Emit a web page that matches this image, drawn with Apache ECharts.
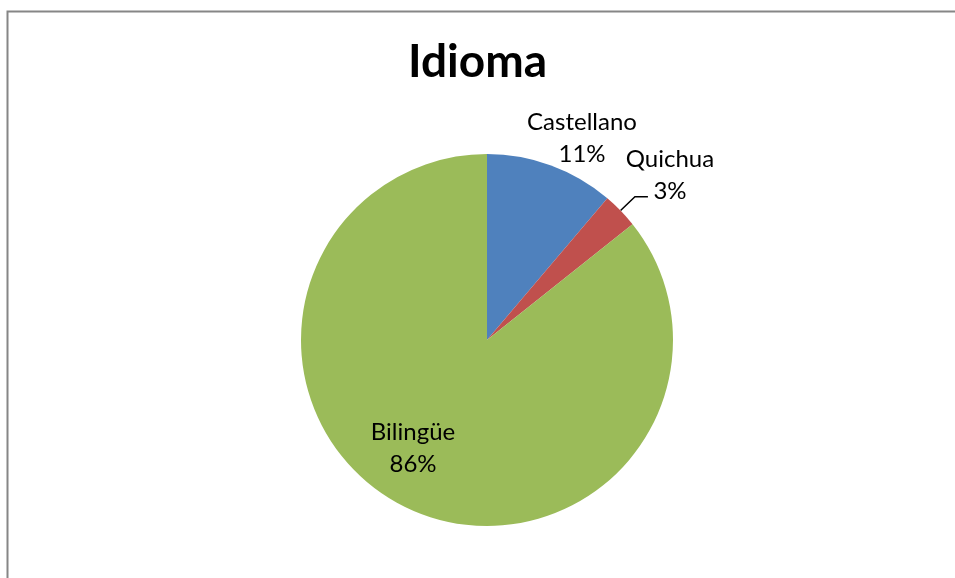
<!DOCTYPE html>
<html>
<head>
<meta charset="utf-8">
<script src="https://cdn.jsdelivr.net/npm/echarts@6/dist/echarts.min.js"></script>
<style>
html,body{margin:0;padding:0;background:#fff;}
#c{width:955px;height:578px;}
</style>
</head>
<body>
<div id="c"></div>
<script>
var categories = ['Castellano', 'Quichua', 'Bilingüe'];
var values = [11.2, 3.1, 85.7];
var colors = ['#4F81BD', '#C0504D', '#9BBB59'];
var titleText = 'Idioma';

var font = 'Lato, "Open Sans", sans-serif';
var total = values.reduce(function (a, b) { return a + b; }, 0);

var labelPos = {
  'Castellano': [582, 138],
  'Quichua': [670, 175],
  'Bilingüe': [413, 448]
};

var chart = echarts.init(document.getElementById('c'));
chart.setOption({
  animation: false,
  backgroundColor: '#fff',
  graphic: [{
    type: 'rect',
    shape: { x: 7.5, y: 11.5, width: 1200, height: 1200 },
    style: { fill: 'none', stroke: '#868686', lineWidth: 2 },
    silent: true
  }],
  title: {
    text: titleText,
    left: 'center',
    top: 34,
    textStyle: { fontFamily: font, fontWeight: 'bold', fontSize: 46, color: '#000' }
  },
  series: [{
    type: 'pie',
    center: [487, 340],
    radius: [0, 186],
    startAngle: 90,
    clockwise: true,
    avoidLabelOverlap: false,
    itemStyle: { borderWidth: 0 },
    label: {
      show: true,
      position: 'outside',
      fontFamily: font,
      fontSize: 24,
      lineHeight: 32,
      color: '#000',
      align: 'center',
      formatter: function (p) {
        return p.name + '\n' + Math.round(p.value / total * 100) + '%';
      }
    },
    labelLine: { show: false },
    labelLayout: function (params) {
      var name = categories[params.dataIndex];
      var pos = labelPos[name];
      var res = { x: pos[0], y: pos[1], align: 'center', verticalAlign: 'middle' };
      if (name === 'Quichua' && params.labelLinePoints) {
        var p = params.labelLinePoints;
        res.labelLinePoints = [p[0], p[1], [p[1][0] + 13, p[1][1]]];
      }
      return res;
    },
    data: categories.map(function (c, i) {
      var item = { name: c, value: values[i], itemStyle: { color: colors[i] } };
      if (c === 'Quichua') {
        item.labelLine = { show: true, length: 20, length2: 13, lineStyle: { color: '#000', width: 1.5 } };
      }
      if (c === 'Bilingüe') {
        item.label = { position: 'inside' };
      }
      return item;
    })
  }]
});
</script>
</body>
</html>
